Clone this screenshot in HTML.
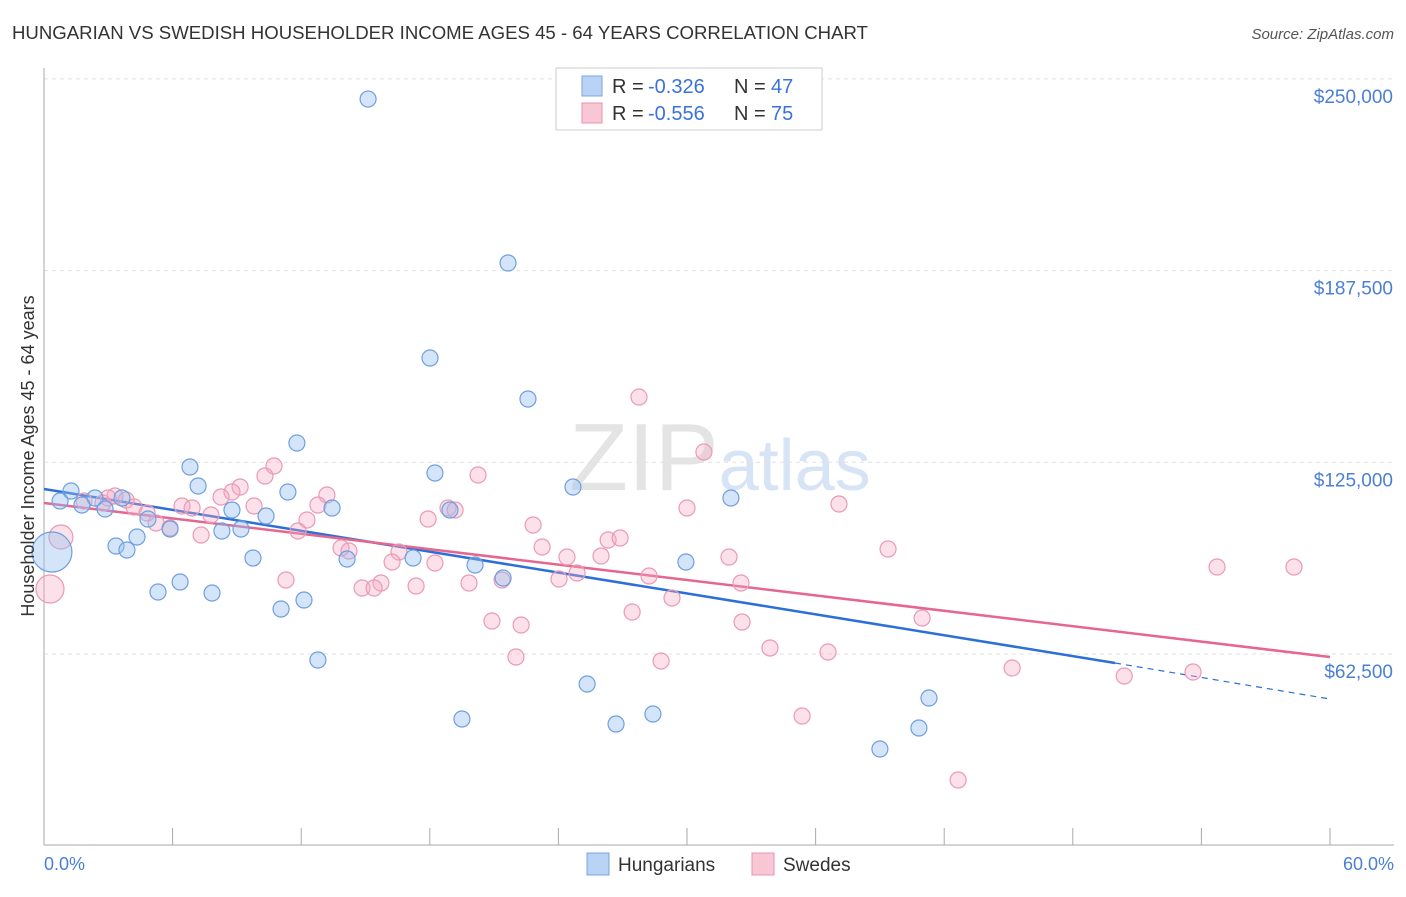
<!DOCTYPE html>
<html><head><meta charset="utf-8">
<style>
body{margin:0;background:#fff;font-family:"Liberation Sans",sans-serif;}
svg text{font-family:"Liberation Sans",sans-serif;}
</style></head>
<body>
<svg id="chart" width="1406" height="892" xmlns="http://www.w3.org/2000/svg">
<text x="12" y="39" font-size="18" fill="#333" textLength="856" lengthAdjust="spacingAndGlyphs">HUNGARIAN VS SWEDISH HOUSEHOLDER INCOME AGES 45 - 64 YEARS CORRELATION CHART</text>
<text x="1394" y="39" font-size="15" fill="#555" text-anchor="end" font-style="italic">Source: ZipAtlas.com</text>
<text x="720" y="490" font-size="96" fill="#e4e4e4" text-anchor="middle" font-family="Liberation Serif">ZIP<tspan fill="#d6e4f5" font-family="Liberation Sans" font-size="72">atlas</tspan></text>
<g id="grid"></g>
<g id="axes"></g>
<g id="trends"></g>
<g id="pts"></g>
<text transform="translate(34,456) rotate(-90)" font-size="18" fill="#333" text-anchor="middle">Householder Income Ages 45 - 64 years</text>
<text x="44" y="870" font-size="18" fill="#4a7fd6">0.0%</text>
<text x="1394" y="870" font-size="18" fill="#4a7fd6" text-anchor="end">60.0%</text>
<g>
<rect x="556" y="68" width="266" height="62" fill="#fff" stroke="#ccc"/>
<rect x="582" y="76" width="20" height="20" fill="#b8d3f5" stroke="#7aa6e0"/>
<rect x="582" y="103" width="20" height="20" fill="#f9c6d6" stroke="#e993b0"/>
<text x="612" y="93" font-size="20" fill="#333">R =</text>
<text x="648" y="93" font-size="20" fill="#3b72d9">-0.326</text>
<text x="734" y="93" font-size="20" fill="#333">N =</text>
<text x="771" y="93" font-size="20" fill="#3b72d9">47</text>
<text x="612" y="120" font-size="20" fill="#333">R =</text>
<text x="648" y="120" font-size="20" fill="#3b72d9">-0.556</text>
<text x="734" y="120" font-size="20" fill="#333">N =</text>
<text x="771" y="120" font-size="20" fill="#3b72d9">75</text>
</g>
<g>
<rect x="587" y="853" width="22" height="22" fill="#b8d3f5" stroke="#7aa6e0"/>
<text x="618" y="871" font-size="19" fill="#333">Hungarians</text>
<rect x="752" y="853" width="22" height="22" fill="#f9c6d6" stroke="#e993b0"/>
<text x="783" y="871" font-size="19" fill="#333">Swedes</text>
</g>
</svg>
<script>
const yTicks=[62500,125000,187500,250000];
const yTickLabels=["$62,500","$125,000","$187,500","$250,000"];
const xTicks=[0,6,12,18,24,30,36,42,48,54,60];
const hunX=[15.12,21.65,18.01,22.58,11.80,6.81,18.24,24.68,32.05,1.26,7.19,11.38,2.38,3.64,0.75,1.77,2.85,4.85,8.77,10.36,13.44,18.94,5.88,9.19,8.30,4.34,3.36,3.87,9.75,14.14,17.22,20.11,21.42,29.95,6.35,5.32,7.84,12.13,11.06,12.78,25.34,41.29,19.50,26.69,28.41,40.82,39.00,0.37];
const hunY=[243430,189966,158996,145630,131286,123462,121506,116942,113356,115638,117268,115312,113356,113356,112378,111074,109770,106510,109444,107488,110096,109444,103250,103250,102598,100642,97708,96404,93796,93470,93796,91514,87276,92492,85972,82712,82386,80104,77170,60544,52720,48156,41310,39680,42940,38376,31530,95752];
const hunR=[8,8,8,8,8,8,8,8,8,8,8,8,8,8,8,8,8,8,8,8,8,8,8,8,8,8,8,8,8,8,8,8,8,8,8,8,8,8,8,8,8,8,8,8,8,8,8,20];
const sweX=[27.76,30.79,20.25,10.73,10.31,9.15,8.77,13.20,3.31,3.83,8.26,1.87,2.75,4.20,6.44,6.91,9.80,12.78,18.85,19.18,30.00,37.09,7.79,12.27,17.92,5.23,5.88,11.85,22.82,7.33,26.32,26.88,0.79,13.86,14.23,16.56,23.24,24.40,25.99,31.96,39.38,16.24,18.24,24.87,28.23,54.73,58.32,11.29,15.72,14.84,15.40,17.36,19.83,21.37,24.03,32.52,29.30,27.44,40.97,20.90,22.26,32.57,33.87,36.58,22.02,28.79,45.17,50.40,53.61,35.37,42.65,0.28,2.99,4.81];
const sweY=[146282,128352,120854,123788,120528,116942,115312,114334,114008,112704,113682,112378,111726,110422,110748,110096,110748,111074,110096,109444,110096,111400,107814,106184,106510,105206,103576,102598,104554,101294,99664,100316,100642,97056,96078,95752,97382,94122,94448,94122,96730,92492,92166,88906,87928,90862,90862,86624,85646,84016,84016,84668,85646,86624,86950,85646,80756,76192,74236,73258,71954,72932,64456,63152,61522,60218,57936,55328,56632,42288,21424,83690,113356,108466];
const sweR=[8,8,8,8,8,8,8,8,8,8,8,8,8,8,8,8,8,8,8,8,8,8,8,8,8,8,8,8,8,8,8,8,12,8,8,8,8,8,8,8,8,8,8,8,8,8,8,8,8,8,8,8,8,8,8,8,8,8,8,8,8,8,8,8,8,8,8,8,8,8,8,14,8,8];
const hunTrend=[[0,116290],[49.97,59566],[60,47830]];
const sweTrend=[[0,111726],[60,61522]];
const NS="http://www.w3.org/2000/svg";
const X=p=>44+p*1286/60;
const Y=v=>654-(v-62500)*191.7/62500;
function mk(t,a,parent){const e=document.createElementNS(NS,t);for(const k in a)e.setAttribute(k,a[k]);document.getElementById(parent).appendChild(e);return e;}
yTicks.forEach((v,i)=>{
 const l=mk('line',{x1:44,x2:1394,y1:Y(v),y2:Y(v),stroke:'#e2e2e2','stroke-dasharray':'4,4'},'grid');
 
 
 const t=mk('text',{x:1393,y:Y(v)+24,'font-size':19,fill:'#4a7fd6','text-anchor':'end'},'grid');
 t.textContent=yTickLabels[i];
 
 
});
const ax=mk('line',{x1:44,x2:44,y1:68,y2:845,stroke:'#aaa'},'axes');


const bx=mk('line',{x1:44,x2:1394,y1:845,y2:845,stroke:'#aaa'},'axes');


xTicks.forEach(p=>{
 const t=mk('line',{x1:X(p),x2:X(p),y1:828,y2:845,stroke:'#aaa'},'axes');
 
 
});
function pts(xs,ys,rs,fill,stroke,name){
 xs.forEach((x,i)=>{
  const c=mk('circle',{cx:X(x),cy:Y(ys[i]),r:rs[i],fill:fill,stroke:stroke,'stroke-width':1.2},'pts');
  
  
 });
}
pts(sweX,sweY,sweR,'rgba(246,170,196,0.35)','#e99ab5','swedes-point');
pts(hunX,hunY,hunR,'rgba(150,190,240,0.4)','#6e9fe0','hungarians-point');
const b1=mk('line',{x1:X(hunTrend[0][0]),y1:Y(hunTrend[0][1]),x2:X(hunTrend[1][0]),y2:Y(hunTrend[1][1]),stroke:'#2d6fd8','stroke-width':2.5},'trends');


const b2=mk('line',{x1:X(hunTrend[1][0]),y1:Y(hunTrend[1][1]),x2:X(hunTrend[2][0]),y2:Y(hunTrend[2][1]),stroke:'#2d6fd8','stroke-width':1.2,'stroke-dasharray':'6,5'},'trends');


const s1=mk('line',{x1:X(sweTrend[0][0]),y1:Y(sweTrend[0][1]),x2:X(sweTrend[1][0]),y2:Y(sweTrend[1][1]),stroke:'#e5668f','stroke-width':2.5},'trends');


</script>
</body></html>
